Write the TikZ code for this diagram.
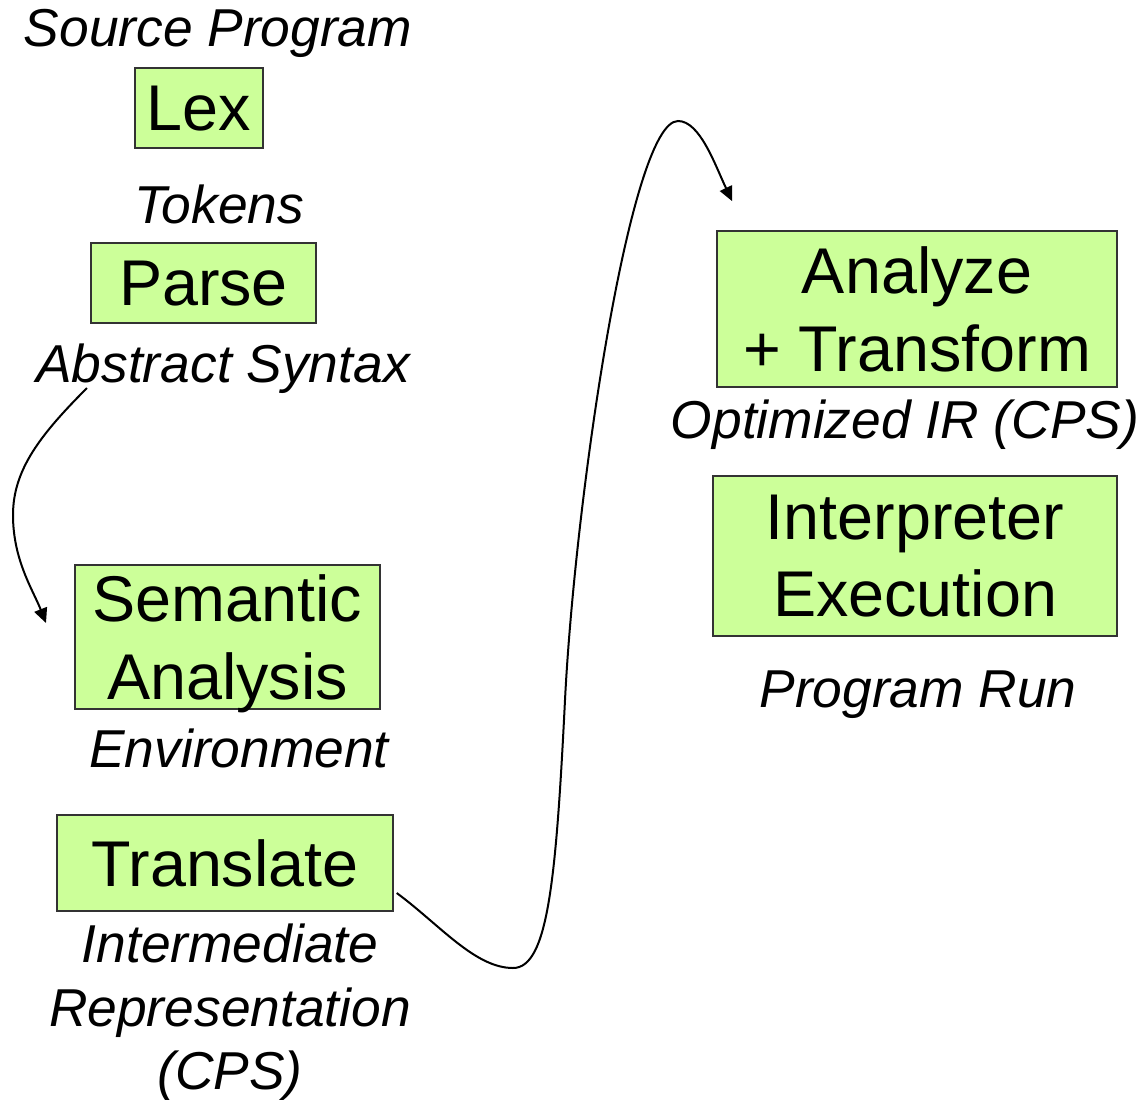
\documentclass[tikz,border=0pt]{standalone}
\usepackage{fontspec}
\setmainfont{Liberation Sans}
\usetikzlibrary{arrows.meta,calc}
\definecolor{stagefill}{HTML}{CCFF99}
\definecolor{stageline}{HTML}{333333}
% drop the depth of a line so the caps sit centred in a stage box
\newcommand\flatline[1]{\raisebox{0pt}[\height][0pt]{#1}}
\begin{document}
\begin{tikzpicture}[x=0.75pt,y=-0.75pt,
  stage/.style 2 args={draw=stageline,line width=1.1pt,fill=stagefill,
    inner sep=0pt,align=center,minimum width=#1*0.75pt,minimum height=#2*0.75pt,
    font=\fontsize{48.5}{58}\selectfont},
  result/.style={inner sep=0pt,align=center,
    font=\fontsize{40}{47.5}\selectfont\itshape},
  conn/.style={line width=1.5pt,-{Triangle[length=11pt,width=10pt]}}]
\useasboundingbox (0,0) rectangle (1141,1099);
\fill[white] (0,0) rectangle (1141,1099);

% compiler stages
\node[stage={128}{80}]  (lex)   at (199,108)   {\flatline{Lex}};
\node[stage={225}{80}]  (parse) at (203.5,283) {\flatline{Parse}};
\node[stage={305}{144}] (sem)   at (227.5,637) {Semantic\\\flatline{Analysis}};
\node[stage={336}{96}]  (trans) at (225,863)   {\flatline{Translate}};
\node[stage={400}{156}] (opt)   at (917,309)   {Analyze\\\flatline{+ Transform}};
\node[stage={404}{160}] (interp) at (915,556)  {Interpreter\\\flatline{Execution}};

% data passed between stages
\node[result,anchor=base] (src)  at (218,46)  {Source Program};
\node[result,anchor=base] (tok)  at (219,223) {Tokens};
\node[result,anchor=base] (ast)  at (223,382) {Abstract Syntax};
\node[result,anchor=base] (env)  at (239,767) {Environment};
\node[result,anchor=north] (ir)  at (230,924) {Intermediate\\Representation\\(CPS)};
\node[result,anchor=base] (oir)  at (905,438) {Optimized IR (CPS)};
\node[result,anchor=base] (run)  at (918,707) {Program Run};

% flow arrows
\coordinate (a1s) at (87,388);
\coordinate (a1e) at (46,623);
\draw[conn] (a1s) .. controls (40,435) and (13,470) .. (13,515)
               .. controls (13,560) and (33,590) .. (a1e);

\coordinate (a2s) at ($(trans.east)+(3,30)$);
\coordinate (a2e) at ($(opt.north west)+(16,-29)$);
\draw[conn] (a2s) .. controls (440,925) and (475,968) .. (513,968)
               .. controls (548,968) and (556,880) .. (565,700)
               .. controls (575,500) and (630,121) .. (678,121)
               .. controls (700,121) and (715,165) .. (a2e);
\end{tikzpicture}
\end{document}
